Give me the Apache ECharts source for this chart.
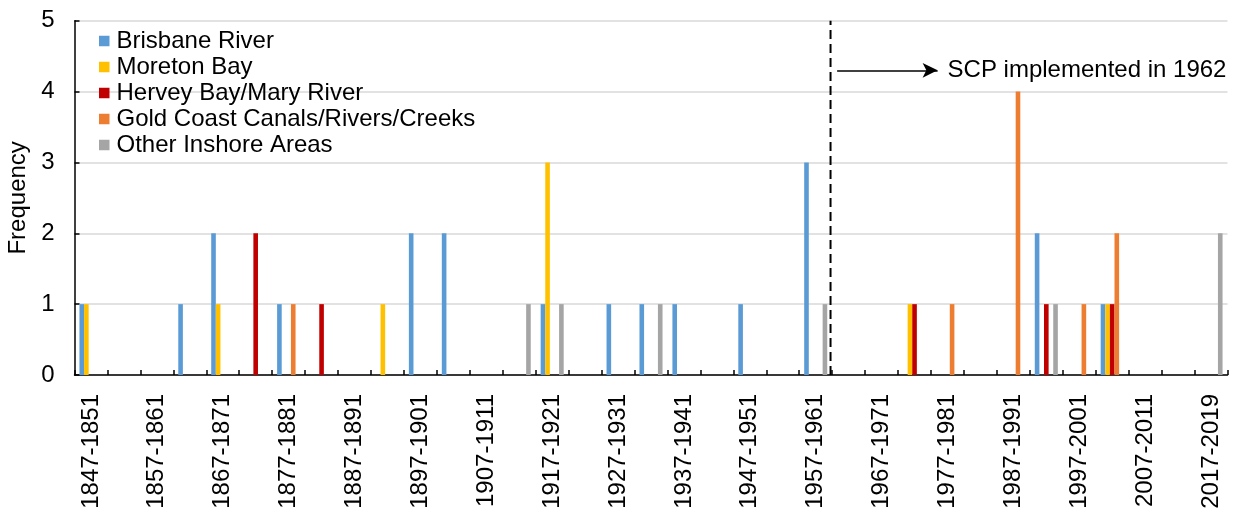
<!DOCTYPE html>
<html>
<head>
<meta charset="utf-8">
<script src="https://cdn.jsdelivr.net/npm/echarts@6/dist/echarts.min.js"></script>
<style>
html,body{margin:0;padding:0;background:#fff;}
#chart{width:1243px;height:509px;}
</style>
</head>
<body>
<div id="chart"></div>
<script>
const categories = ['1847-1851','1852-1856','1857-1861','1862-1866','1867-1871','1872-1876','1877-1881','1882-1886','1887-1891','1892-1896','1897-1901','1902-1906','1907-1911','1912-1916','1917-1921','1922-1926','1927-1931','1932-1936','1937-1941','1942-1946','1947-1951','1952-1956','1957-1961','1962-1966','1967-1971','1972-1976','1977-1981','1982-1986','1987-1991','1992-1996','1997-2001','2002-2006','2007-2011','2012-2016','2017-2019'];
const seriesNames = ['Brisbane River','Moreton Bay','Hervey Bay/Mary River','Gold Coast Canals/Rivers/Creeks','Other Inshore Areas'];
const brisbane = [1,0,0,1,2,0,1,0,0,0, 2,2,0,0,1,0,1,1,1,0, 1,0,3,0,0,0,0,0,0,2, 0,1,0,0,0];
const moreton  = [1,0,0,0,1,0,0,0,0,1, 0,0,0,0,3,0,0,0,0,0, 0,0,0,0,0,1,0,0,0,0, 0,1,0,0,0];
const hervey   = [0,0,0,0,0,2,0,1,0,0, 0,0,0,0,0,0,0,0,0,0, 0,0,0,0,0,1,0,0,0,1, 0,1,0,0,0];
const goldCoast= [0,0,0,0,0,0,1,0,0,0, 0,0,0,0,0,0,0,0,0,0, 0,0,0,0,0,0,1,0,4,0, 1,2,0,0,0];
const other    = [0,0,0,0,0,0,0,0,0,0, 0,0,0,1,1,0,0,1,0,0, 0,0,1,0,0,0,0,0,0,1, 0,0,0,0,2];
const yTicks = [0,1,2,3,4,5];
const scpIndex = 22.95;        // boundary before the 1962-1966 period
const scpLabel = 'SCP implemented in 1962';
const arrowFrom = [23.15, 4.3];
const arrowTo = [26.2, 4.3];

const colors = ['#5B9BD5','#FFC000','#C00000','#ED7D31','#A5A5A5'];
const values = [brisbane, moreton, hervey, goldCoast, other];
const FONT = "'Liberation Sans', Arial, sans-serif";
const FS = 24;

const chart = echarts.init(document.getElementById('chart'), null, {renderer:'canvas'});
const barSeries = seriesNames.map((n,i)=>({
  name:n, type:'bar', data:values[i], xAxisIndex:0, yAxisIndex:0,
  itemStyle:{color:colors[i]}, barGap:'0%', barCategoryGap:'30%'
}));
const option = {
  animation:false,
  color:colors,
  textStyle:{fontFamily:FONT},
  grid:{left:74.5, right:15.5, top:20.7, bottom:134, containLabel:false, outerBoundsMode:'none'},
  legend:{
    data:seriesNames, orient:'vertical', left:99, top:29, padding:0,
    icon:'rect', itemWidth:10.5, itemHeight:10.5, itemGap:2,
    textStyle:{fontSize:FS, color:'#000', fontFamily:FONT, padding:[0,0,0,2]}
  },
  xAxis:[{
    type:'category', data:categories,
    axisLine:{lineStyle:{color:'#000', width:1.5}},
    axisTick:{show:true, inside:true, length:5, interval:0, lineStyle:{color:'#000', width:1.5}},
    axisLabel:{interval:1, rotate:90, fontSize:FS, color:'#000', margin:19, fontFamily:FONT},
    splitLine:{show:false}
  },{
    type:'value', min:0, max:categories.length, show:false
  }],
  yAxis:{
    type:'value', min:yTicks[0], max:yTicks[yTicks.length-1], interval:1,
    name:'Frequency', nameLocation:'middle', nameGap:44,
    nameTextStyle:{fontSize:FS, color:'#000', fontFamily:FONT},
    axisLine:{show:true, lineStyle:{color:'#000', width:1.5}},
    axisTick:{show:true, inside:true, length:5, lineStyle:{color:'#000', width:1.5}},
    axisLabel:{fontSize:FS, color:'#000', margin:20, fontFamily:FONT},
    splitLine:{show:true, lineStyle:{color:'#D9D9D9', width:1.5}}
  },
  series:[...barSeries, {
    name:'SCP', type:'line', xAxisIndex:1, yAxisIndex:0,
    data:[[scpIndex, yTicks[0]],[scpIndex, yTicks[yTicks.length-1]]],
    symbol:'none', lineStyle:{color:'#000', width:2, type:[9,5]},
    z:5, silent:true,
    markLine:{
      silent:true, symbol:['none','arrow'], symbolSize:[11,15],
      lineStyle:{color:'#000', width:1.5, type:'solid'},
      label:{show:true, position:'end', formatter:scpLabel, fontSize:FS, color:'#000', distance:10, fontFamily:FONT},
      data:[[{coord:arrowFrom},{coord:arrowTo}]]
    }
  }]
};
chart.setOption(option);
</script>
</body>
</html>
